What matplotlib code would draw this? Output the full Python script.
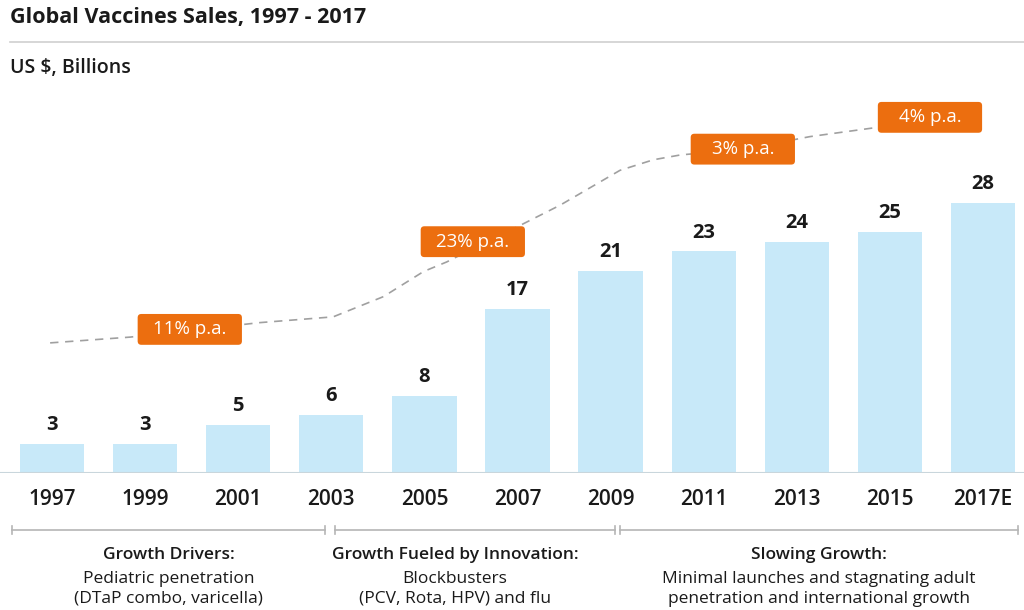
import matplotlib.pyplot as plt
from matplotlib.transforms import blended_transform_factory
from matplotlib.lines import Line2D
from matplotlib.patches import FancyBboxPatch

years = ['1997', '1999', '2001', '2003', '2005', '2007', '2009', '2011', '2013', '2015', '2017E']
sales = [3, 3, 5, 6, 8, 17, 21, 23, 24, 25, 28]

# decorative growth trend (bar index position, value)
trend_x = [-0.02, 0.84, 2.23, 3.02, 3.56, 3.99, 4.24, 4.71, 5.03, 5.46, 6.10, 6.46, 6.75,
           7.44, 8.14, 8.82, 9.43]
trend_y = [13.5, 14.1, 15.6, 16.2, 18.3, 20.9, 21.9, 24.2, 25.7, 27.8, 31.4, 32.5, 33.0,
           33.6, 34.9, 35.8, 36.9]

rate_labels = ['11% p.a.', '23% p.a.', '3% p.a.', '4% p.a.']
rate_x = [1.48, 4.52, 7.42, 9.43]
rate_y = [14.9, 24.0, 33.6, 36.9]

# phase brackets: heading, body, bracket start/end, text centre (bar index units)
groups = [
    ('Growth Drivers:', 'Pediatric penetration\n(DTaP combo, varicella)', -0.43, 2.93, 1.25),
    ('Growth Fueled by Innovation:', 'Blockbusters\n(PCV, Rota, HPV) and flu', 3.04, 6.05, 4.33),
    ('Slowing Growth:', 'Minimal launches and stagnating adult\npenetration and international growth', 6.1, 10.38, 8.24),
]

plt.rcParams['font.family'] = ['Open Sans', 'DejaVu Sans']

fig = plt.figure(figsize=(10.24, 6.1), dpi=100)
ax = fig.add_axes([0, 1 - 473 / 610, 1, (473 - 100) / 610])

x = list(range(len(years)))
ax.bar(x, sales, width=0.69, color='#c8e9f9', zorder=2)
for i, v in enumerate(sales):
    ax.text(i, v + 0.9, str(v), ha='center', va='bottom', fontsize=14.5,
            fontweight='bold', color='#1a1a1a')

ax.plot(trend_x, trend_y, color='#a0a0a0', lw=1.2, ls=(0, (5, 4)), zorder=1)

# orange badges: ~104 x 31 px
bw, bh = 1.12, 3.2
for lab, rx, ry in zip(rate_labels, rate_x, rate_y):
    ax.add_patch(FancyBboxPatch((rx - bw / 2, ry - bh / 2), bw, bh,
                                boxstyle='round,pad=0,rounding_size=0.04',
                                mutation_aspect=9.6, fc='#ec6e0f', ec='none', zorder=4))
    ax.text(rx, ry, lab, ha='center', va='center', fontsize=13.5, color='white', zorder=5)

ax.set_xlim(-0.5585, 10.44)
ax.set_ylim(0, 38.7)
ax.axis('off')
ax.axhline(0, color='#c9d6dc', lw=1.5, zorder=3)

for i, y in enumerate(years):
    ax.text(i, -2.8, y, ha='center', va='center', fontsize=15, fontweight='semibold',
            color='#1a1a1a')

tr = blended_transform_factory(ax.transData, fig.transFigure)
yb = 1 - 530 / 610
for head, body, x0, x1, xc in groups:
    ax.plot([x0, x1], [yb, yb], color='#b5b5b5', lw=1.2, transform=tr, clip_on=False)
    for xe in (x0, x1):
        ax.plot([xe, xe], [yb - 0.006, yb + 0.006], color='#b5b5b5', lw=1.2,
                transform=tr, clip_on=False)
    ax.text(xc, 1 - 555 / 610, head, ha='center', va='center', fontsize=12.5,
            fontweight='semibold', color='#1a1a1a', transform=tr)
    ax.text(xc, 1 - 589 / 610, body, ha='center', va='center', fontsize=12.5,
            color='#1a1a1a', transform=tr, linespacing=1.32)

fig.text(0.01, 1 - 18 / 610, 'Global Vaccines Sales, 1997 - 2017', ha='left', va='center',
         fontsize=15.5, fontweight='bold', color='#1a1a1a')
fig.add_artist(Line2D([0.01, 1.0], [1 - 42 / 610, 1 - 42 / 610], color='#cfcfcf', lw=1.2))
fig.text(0.01, 1 - 68 / 610, 'US $, Billions', ha='left', va='center',
         fontsize=14, fontweight='semibold', color='#1a1a1a')

fig.savefig('out.png', dpi=100, facecolor='white')
